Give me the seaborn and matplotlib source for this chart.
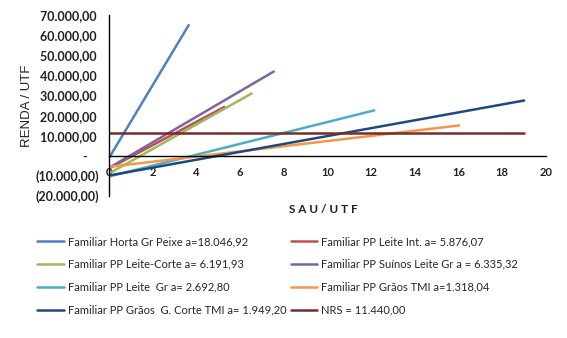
import matplotlib
matplotlib.use("Agg")
import matplotlib.pyplot as plt
import seaborn as sns
import pandas as pd
from matplotlib.ticker import FuncFormatter

# series: [start, end] of each line
names = [
    "Familiar Horta Gr Peixe a=18.046,92",
    "Familiar PP Leite Int. a= 5.876,07",
    "Familiar PP Leite-Corte a= 6.191,93",
    "Familiar PP Suínos Leite Gr a = 6.335,32",
    "Familiar PP Leite  Gr a= 2.692,80",
    "Familiar PP Grãos TMI a=1.318,04",
    "Familiar PP Grãos  G. Corte TMI a= 1.949,20",
    "NRS = 11.440,00",
]
sau = [
    [0, 3.65],
    [0, 5.28],
    [0, 6.53],
    [0, 7.54],
    [0, 12.14],
    [0, 16.03],
    [0, 19.0],
    [0, 19.0],
]
renda = [
    [-1100, 65000],
    [-6300, 24300],
    [-8800, 31000],
    [-6000, 41900],
    [-10300, 22600],
    [-5500, 15100],
    [-9800, 27500],
    [11440, 11440],
]
colors = ["#4F81BD", "#C0504D", "#9BBB59", "#8064A2",
          "#4BACC6", "#F79646", "#1F497D", "#772C2A"]
x_ticks = list(range(0, 21, 2))
y_ticks = list(range(-20000, 70001, 10000))


def fmt_renda(v, pos):
    # excel accounting style: "-" for zero, brackets for negatives
    if v == 0:
        return "-    "
    s = "{:,.2f}".format(abs(v)).replace(",", "X").replace(".", ",").replace("X", ".")
    return "(" + s + ")" if v < 0 else s + " "


rows = []
for n, xs, ys in zip(names, sau, renda):
    for a, b in zip(xs, ys):
        rows.append({"serie": n, "SAU": a, "RENDA": b})
df = pd.DataFrame(rows)

sns.set_style("white")
plt.rcParams["font.family"] = ["Lato", "DejaVu Sans"]

fig = plt.figure(figsize=(5.67, 3.38), dpi=100)
ax = fig.add_axes([0.1922, 0.420, 0.7707, 0.5355])

sns.lineplot(data=df, x="SAU", y="RENDA", hue="serie", hue_order=names,
             palette=colors, linewidth=1.8, ax=ax, legend=False)

ax.set_xlim(0, 20)
ax.set_ylim(-20000, 70000)
ax.set_xticks(x_ticks)
ax.set_yticks(y_ticks)
ax.yaxis.set_major_formatter(FuncFormatter(fmt_renda))

for s in ["top", "right"]:
    ax.spines[s].set_visible(False)
ax.spines["bottom"].set_position(("data", 0))
for s in ["bottom", "left"]:
    ax.spines[s].set_color("black")
    ax.spines[s].set_linewidth(1.0)

ax.tick_params(axis="x", length=0, pad=8, labelsize=8)
ax.tick_params(axis="y", length=0, pad=7, labelsize=9)
for lab in ax.get_xticklabels() + ax.get_yticklabels():
    lab.set_fontweight("bold")
    lab.set_color("#222222")

ax.set_xlabel("")
ax.set_ylabel("")
fig.text(0.0476, 0.686, "RENDA / UTF", rotation=90, ha="center", va="center",
         fontsize=9.5, family="Liberation Sans", color="#222222")
fig.text(0.571, 0.379, "S A U / U T F", ha="center", va="center",
         fontsize=8.5, fontweight="bold", color="#222222")

# legend, two columns in Excel row order
lines = ax.get_lines()[:len(names)]
order = [0, 2, 4, 6, 1, 3, 5, 7]
leg = fig.legend([lines[i] for i in order], [names[i] for i in order],
                 ncol=2, loc="upper left", bbox_to_anchor=(0.065, 0.302),
                 frameon=False, fontsize=8, handlelength=2.4,
                 handletextpad=0.36, columnspacing=0.4, labelspacing=1.07,
                 borderaxespad=0, borderpad=0)

fig.savefig("out.png", dpi=100)
